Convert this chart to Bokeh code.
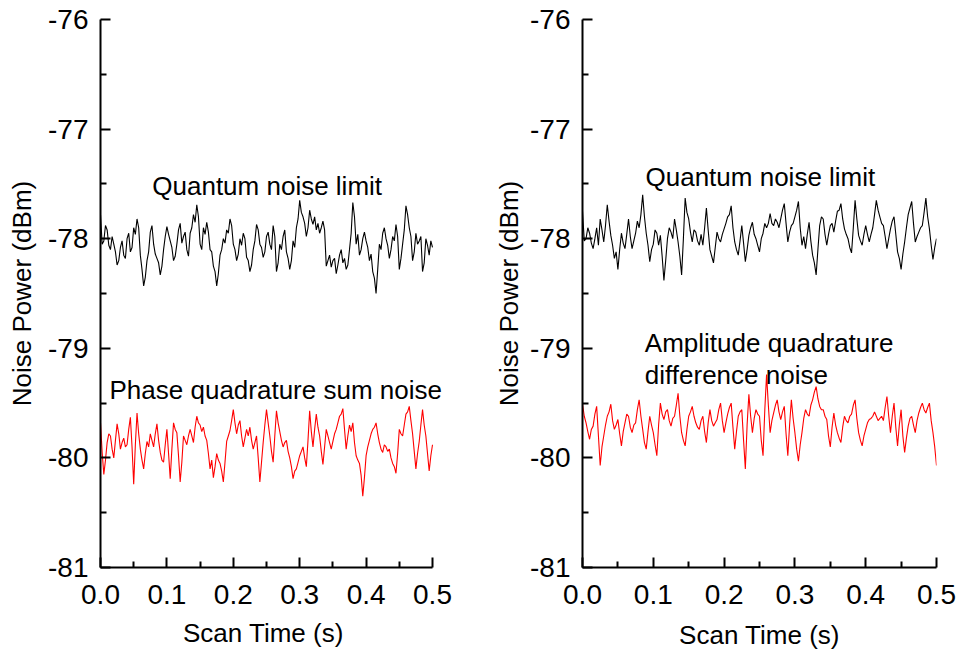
from bokeh.plotting import figure
from bokeh.layouts import row
from bokeh.models import FixedTicker, ColumnDataSource, Label, Title
from bokeh.embed import file_html
from bokeh.resources import INLINE

# ---- data ----
# samples at 0, 0.005, ..., 0.5 s
scan_time_main = [round(i * 0.005, 4) for i in range(101)]
# samples in between, at 0.0025, 0.0075, ..., 0.4975 s
scan_time_mid = [round(0.0025 + i * 0.005, 4) for i in range(100)]

left_qnl = [
    -77.78, -78.02, -77.92, -78.10, -78.05, -78.24, -78.08, -78.15, -78.00, -78.12,
    -77.90, -77.82, -78.15, -78.43, -78.20, -77.94, -78.05, -78.18, -78.33, -78.10,
    -77.89, -78.02, -78.20, -78.05, -77.86, -77.98, -78.10, -77.95, -77.78, -77.69,
    -78.05, -77.90, -77.85, -78.10, -78.25, -78.43, -78.15, -78.00, -77.92, -77.82,
    -78.05, -78.20, -78.00, -77.95, -78.17, -78.30, -78.10, -77.87, -78.05, -78.17,
    -77.98, -78.05, -77.88, -78.30, -78.05, -77.98, -78.12, -78.28, -78.02, -77.90,
    -77.65, -77.80, -77.98, -77.74, -77.87, -77.92, -77.95, -77.84, -78.25, -78.15,
    -78.20, -78.32, -78.15, -78.22, -78.28, -78.10, -77.67, -78.05, -78.15, -78.00,
    -78.02, -78.20, -78.30, -78.50, -78.05, -77.95, -78.00, -78.18, -77.98, -77.87,
    -78.28, -78.05, -77.70, -77.90, -78.20, -77.95, -78.02, -78.30, -78.00, -78.15,
    -78.08,
]
left_qnl_mid = [
    -78.05, -77.88, -78.06, -77.98, -78.12, -78.20, -78.02, -78.18, -77.95, -78.08,
    -77.96, -77.90, -78.28, -78.35, -78.12, -77.88, -78.14, -78.22, -78.25, -77.98,
    -77.96, -78.08, -78.16, -77.92, -78.04, -77.94, -78.16, -77.90, -77.85, -77.80,
    -78.10, -77.96, -77.94, -78.12, -78.30, -78.32, -78.10, -78.04, -77.95, -77.88,
    -78.10, -78.14, -78.06, -78.00, -78.20, -78.24, -78.02, -77.92, -78.08, -78.12,
    -77.94, -78.10, -77.98, -78.22, -78.10, -77.92, -78.18, -78.20, -78.08, -77.82,
    -77.76, -77.86, -77.90, -77.82, -77.80, -77.86, -77.90, -77.92, -78.20, -78.26,
    -78.18, -78.24, -78.10, -78.18, -78.24, -77.95, -77.80, -77.96, -78.10, -77.94,
    -78.08, -78.14, -78.36, -78.28, -78.10, -77.90, -78.06, -78.10, -78.02, -77.98,
    -78.18, -77.92, -77.78, -77.98, -78.12, -78.05, -77.98, -78.22, -78.06, -78.02,
]

left_phase_sum = [
    -79.68, -80.15, -79.86, -79.80, -80.00, -79.69, -79.92, -79.82, -79.88, -79.63,
    -80.24, -79.59, -79.92, -80.10, -79.85, -79.78, -79.90, -79.69, -79.95, -80.04,
    -79.74, -80.19, -79.68, -79.77, -80.22, -79.80, -79.88, -79.74, -79.86, -79.62,
    -79.70, -79.72, -79.84, -80.10, -80.18, -79.96, -80.05, -80.22, -79.85, -79.75,
    -79.56, -79.78, -79.66, -79.90, -79.74, -79.72, -79.92, -79.80, -80.22, -79.86,
    -79.56, -79.80, -80.04, -79.57, -79.76, -79.90, -79.84, -80.00, -80.19, -80.10,
    -79.98, -79.90, -80.08, -79.57, -79.90, -79.60, -79.80, -80.06, -79.74, -79.86,
    -79.85, -79.74, -79.62, -79.55, -79.92, -79.70, -79.68, -79.98, -80.05, -80.35,
    -79.98, -79.84, -79.74, -79.68, -79.86, -79.95, -79.90, -79.92, -80.05, -80.14,
    -79.74, -79.80, -79.60, -79.53, -79.78, -80.10, -79.85, -79.56, -79.80, -80.12,
    -79.88,
]
left_phase_sum_mid = [
    -79.95, -80.02, -79.78, -79.92, -79.84, -79.78, -79.86, -79.90, -79.74, -79.90,
    -79.88, -79.78, -80.02, -79.96, -79.90, -79.84, -79.78, -79.84, -80.02, -79.88,
    -79.96, -79.92, -79.74, -79.98, -80.04, -79.84, -79.80, -79.80, -79.72, -79.68,
    -79.76, -79.80, -79.96, -80.02, -80.08, -80.02, -80.12, -80.04, -79.80, -79.66,
    -79.68, -79.70, -79.80, -79.82, -79.80, -79.84, -79.86, -80.00, -80.04, -79.70,
    -79.68, -79.94, -79.80, -79.68, -79.84, -79.86, -79.94, -80.08, -80.12, -80.04,
    -79.94, -80.00, -79.84, -79.76, -79.74, -79.72, -79.94, -79.90, -79.80, -79.92,
    -79.78, -79.68, -79.60, -79.74, -79.80, -79.76, -79.86, -80.02, -80.16, -80.18,
    -79.90, -79.78, -79.72, -79.78, -79.92, -79.88, -79.94, -80.00, -80.08, -79.96,
    -79.78, -79.70, -79.58, -79.66, -79.94, -79.96, -79.70, -79.70, -79.96, -79.98,
]

right_qnl = [
    -77.75, -78.00, -77.95, -78.09, -77.90, -77.82, -78.03, -77.69, -77.97, -78.18,
    -78.28, -77.95, -78.09, -77.82, -78.09, -77.95, -77.90, -77.60, -77.95, -78.21,
    -78.05, -77.95, -77.97, -78.38, -78.00, -77.94, -77.82, -78.03, -78.33, -77.63,
    -77.82, -78.03, -77.94, -78.06, -78.06, -77.72, -78.10, -78.22, -77.94, -78.03,
    -77.91, -77.80, -77.70, -78.03, -78.15, -77.88, -78.21, -77.97, -77.85, -78.00,
    -78.12, -77.95, -77.90, -77.77, -77.88, -77.85, -77.82, -77.68, -78.03, -77.88,
    -77.80, -77.66, -78.06, -78.09, -77.85, -78.15, -78.33, -77.88, -77.82, -78.06,
    -77.88, -77.94, -77.75, -77.68, -77.91, -78.00, -78.13, -77.65, -77.97, -78.06,
    -77.88, -78.03, -77.90, -77.65, -77.80, -77.88, -78.09, -77.91, -77.80, -78.12,
    -78.28, -78.03, -77.78, -77.66, -78.03, -77.94, -77.88, -77.63, -77.91, -78.19,
    -78.00,
]
right_qnl_mid = [
    -78.02, -77.90, -78.04, -78.00, -78.06, -77.92, -77.88, -77.84, -78.06, -78.12,
    -78.10, -78.04, -77.96, -77.98, -78.02, -77.84, -77.78, -77.80, -78.06, -78.10,
    -77.92, -78.06, -78.16, -78.20, -77.90, -78.00, -77.92, -78.16, -78.00, -77.76,
    -77.94, -77.92, -78.02, -77.96, -77.90, -77.92, -78.16, -78.08, -78.00, -77.96,
    -77.86, -77.78, -77.90, -78.10, -78.02, -78.04, -78.10, -77.90, -77.96, -78.06,
    -78.00, -77.86, -77.86, -77.86, -77.82, -77.90, -77.74, -77.86, -77.94, -77.86,
    -77.74, -77.90, -77.98, -77.96, -78.02, -78.22, -78.10, -77.80, -77.96, -77.96,
    -77.86, -77.84, -77.74, -77.82, -77.96, -78.08, -77.90, -77.82, -78.02, -77.96,
    -77.96, -77.96, -77.78, -77.74, -77.86, -77.98, -78.00, -77.84, -77.96, -78.18,
    -78.14, -77.90, -77.72, -77.86, -77.98, -77.90, -77.76, -77.80, -78.06, -78.08,
]

right_amp_diff = [
    -79.51, -79.68, -79.83, -79.71, -79.53, -80.07, -79.80, -79.62, -79.51, -79.74,
    -79.65, -79.89, -79.68, -79.62, -79.77, -79.68, -79.47, -79.74, -79.92, -79.62,
    -79.77, -79.98, -79.50, -79.65, -79.56, -79.71, -79.62, -79.41, -79.77, -79.89,
    -79.62, -79.53, -79.68, -79.74, -79.62, -79.86, -79.56, -79.71, -79.65, -79.50,
    -79.77, -79.60, -79.50, -79.92, -79.62, -79.56, -80.10, -79.42, -79.77, -79.56,
    -79.62, -79.98, -79.24, -79.77, -79.59, -79.47, -79.65, -79.53, -79.98, -79.47,
    -79.77, -80.03, -79.77, -79.56, -79.62, -79.47, -79.35, -79.53, -79.56, -79.65,
    -79.90, -79.59, -79.77, -79.86, -79.62, -79.68, -79.60, -79.47, -79.77, -79.89,
    -79.74, -79.65, -79.62, -79.62, -79.64, -79.66, -79.44, -79.77, -79.50, -79.89,
    -79.56, -79.95, -79.71, -79.62, -79.77, -79.59, -79.50, -79.59, -79.50, -79.77,
    -80.07,
]
right_amp_diff_mid = [
    -79.62, -79.76, -79.74, -79.60, -79.80, -79.90, -79.70, -79.58, -79.66, -79.70,
    -79.78, -79.76, -79.60, -79.72, -79.70, -79.56, -79.62, -79.86, -79.76, -79.70,
    -79.88, -79.70, -79.60, -79.58, -79.66, -79.64, -79.52, -79.62, -79.84, -79.74,
    -79.58, -79.62, -79.72, -79.66, -79.76, -79.68, -79.66, -79.68, -79.56, -79.66,
    -79.68, -79.54, -79.72, -79.76, -79.58, -79.84, -79.70, -79.62, -79.64, -79.60,
    -79.84, -79.56, -79.52, -79.66, -79.52, -79.58, -79.58, -79.78, -79.70, -79.64,
    -79.92, -79.88, -79.64, -79.60, -79.52, -79.40, -79.46, -79.56, -79.62, -79.80,
    -79.72, -79.70, -79.82, -79.72, -79.66, -79.62, -79.52, -79.64, -79.84, -79.80,
    -79.68, -79.64, -79.58, -79.66, -79.62, -79.54, -79.62, -79.62, -79.72, -79.70,
    -79.80, -79.82, -79.64, -79.70, -79.66, -79.54, -79.56, -79.54, -79.66, -79.90,
]

y_ticks = [-81, -80, -79, -78, -77, -76]
y_minor = [-80.5, -79.5, -78.5, -77.5, -76.5]
x_ticks = [0.0, 0.1, 0.2, 0.3, 0.4, 0.5]
x_minor = [0.05, 0.15, 0.25, 0.35, 0.45]
x_tick_labels = ["0.0", "0.1", "0.2", "0.3", "0.4", "0.5"]
x_axis_end = 0.5
x_title = "Scan Time (s)"
y_title = "Noise Power (dBm)"

FONT = "Liberation Sans"
TICK_SIZE = "28px"
LABEL_SIZE = "26px"
NOTE_SIZE = "26px"


def merge(main, mid):
    """Put the main samples and the in-between samples in time order."""
    out = []
    for i, v in enumerate(main):
        out.append(v)
        if i < len(mid):
            out.append(mid[i])
    return out


scan_time = merge(scan_time_main, scan_time_mid)


def make_panel(width, border_left, border_right, border_top, axis_px, frame_px,
               label_standoff, top_series, bottom_series, notes):
    # the frame may extend past the end of the axis so that notes are not cut off
    x_end = x_axis_end * frame_px / axis_px
    p = figure(width=width, height=659, output_backend="svg", toolbar_location=None,
               x_range=(0, x_end), y_range=(-81, -76),
               min_border_left=border_left, min_border_right=border_right,
               min_border_top=border_top, min_border_bottom=92)
    p.outline_line_color = None
    p.grid.visible = False
    p.background_fill_color = "white"
    p.border_fill_color = "white"

    src = ColumnDataSource(dict(t=scan_time, a=top_series, b=bottom_series))
    p.line("t", "a", source=src, line_color="black", line_width=1.1)
    p.line("t", "b", source=src, line_color="#ff0000", line_width=1.1)

    for ax in (p.xaxis[0], p.yaxis[0]):
        ax.axis_line_width = 2
        ax.axis_line_color = "black"
        ax.major_tick_in = 10
        ax.major_tick_out = 0
        ax.minor_tick_in = 6
        ax.minor_tick_out = 0
        ax.major_tick_line_width = 2
        ax.minor_tick_line_width = 2
        ax.major_label_text_font = FONT
        ax.major_label_text_font_size = TICK_SIZE
        ax.major_label_text_color = "black"
        ax.axis_label_text_font = FONT
        ax.axis_label_text_font_size = LABEL_SIZE
        ax.axis_label_text_font_style = "normal"
        ax.axis_label_text_color = "black"

    p.xaxis.ticker = FixedTicker(ticks=x_ticks, minor_ticks=x_minor)
    p.xaxis.bounds = (0, x_axis_end)
    p.xaxis.major_label_overrides = {t: s for t, s in zip(x_ticks, x_tick_labels)}
    p.xaxis.major_label_standoff = 17
    if frame_px == axis_px:
        p.xaxis.axis_label = x_title
        p.xaxis.axis_label_standoff = 13
    else:
        # centre the title under the axis, not under the wider frame
        title_w = 167
        p.add_layout(Title(text=x_title, align="left",
                           offset=(axis_px - title_w) / 2,
                           text_font=FONT, text_font_size=LABEL_SIZE,
                           text_font_style="normal", text_color="black",
                           standoff=18), "below")

    p.yaxis.ticker = FixedTicker(ticks=y_ticks, minor_ticks=y_minor)
    p.yaxis.major_label_overrides = {t: str(t) for t in y_ticks}
    p.yaxis.axis_label = y_title
    p.yaxis.major_label_standoff = 12
    p.yaxis.axis_label_standoff = label_standoff

    for (tx, ty, txt) in notes:
        p.add_layout(Label(x=tx, y=ty, text=txt, text_font=FONT,
                           text_font_size=NOTE_SIZE, text_color="black",
                           text_baseline="middle", text_align="left"))
    return p


# left panel: axis 332 px long, frame 360 px wide (text runs past the axis end)
p1 = make_panel(488, 100, 28, 19, 332, 360, 8,
                merge(left_qnl, left_qnl_mid), merge(left_phase_sum, left_phase_sum_mid), [
                    (0.078, -77.515, "Quantum noise limit"),
                    (0.0136, -79.376, "Phase quadrature sum noise"),
                ])
p2 = make_panel(468, 94, 20, 17, 354, 354, 3,
                merge(right_qnl, right_qnl_mid), merge(right_amp_diff, right_amp_diff_mid), [
                    (0.089, -77.44, "Quantum noise limit"),
                    (0.088, -78.95, "Amplitude quadrature"),
                    (0.088, -79.245, "difference noise"),
                ])

layout = row(p1, p2)
open("out.html", "w").write(file_html(layout, INLINE))
